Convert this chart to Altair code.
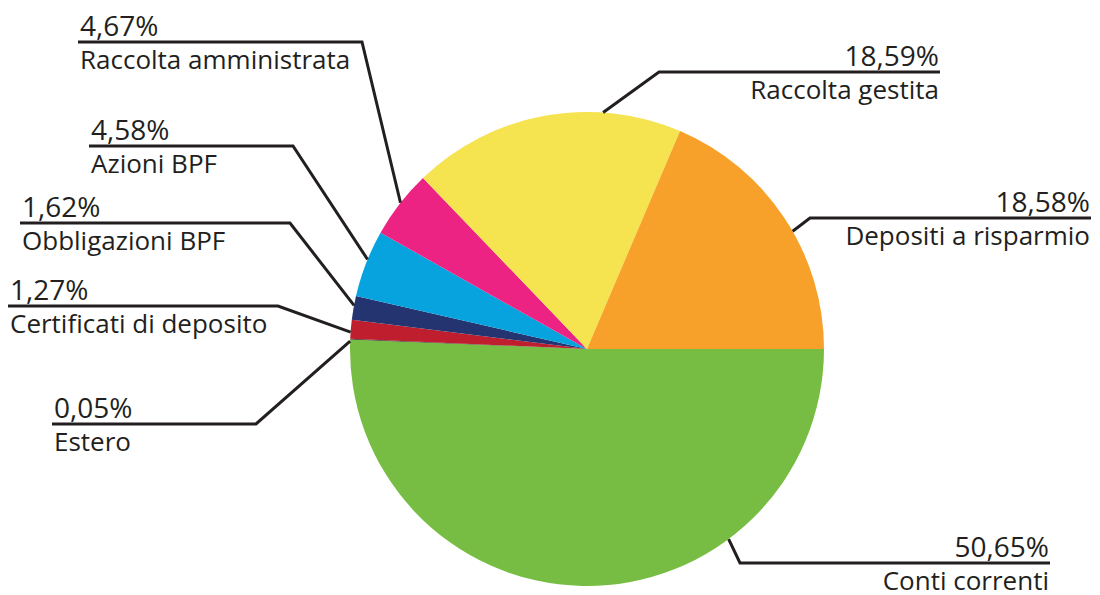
import math
import altair as alt
import pandas as pd

# ---- data ----
categories = ["Conti correnti", "Estero", "Certificati di deposito", "Obbligazioni BPF",
              "Azioni BPF", "Raccolta amministrata", "Raccolta gestita", "Depositi a risparmio"]
values = [50.65, 0.05, 1.27, 1.62, 4.58, 4.67, 18.59, 18.58]
pct_labels = ["50,65%", "0,05%", "1,27%", "1,62%", "4,58%", "4,67%", "18,59%", "18,58%"]
colors = ["#77BD43", "#231F20", "#BF1E2E", "#243470", "#07A3DE", "#EC2382", "#F5E34F", "#F7A12B"]

# ---- label layout (page pixel space) ----
CX, CY, R = 587, 349, 237
attach_deg = [143.3, 271.9, 274.1, 280.6, 292.2, 308.1, 3.9, 60.2]
elbow_x = [740, 256, 278, 290, 293, 362, 659, 810]
line_y = [563, 424, 306, 223, 146, 42, 72, 218]
end_x = [1050, 52, 8, 20, 89, 78, 940, 1091]
align = ["right", "left", "left", "left", "left", "left", "right", "right"]

df = pd.DataFrame({"cat": categories, "value": values, "idx": list(range(len(values)))})

rows = []
for i, c in enumerate(categories):
    a = math.radians(attach_deg[i])
    ax = CX + R * math.sin(a)
    ay = CY - R * math.cos(a)
    rows += [
        {"cat": c, "k": 0, "x": ax, "y": ay},
        {"cat": c, "k": 1, "x": elbow_x[i], "y": line_y[i]},
        {"cat": c, "k": 2, "x": end_x[i], "y": line_y[i]},
    ]
lines_df = pd.DataFrame(rows)

pct_rows, name_rows = [], []
for i, c in enumerate(categories):
    tx = end_x[i] + (2 if align[i] == "left" else -1)
    pct_rows.append({"t": pct_labels[i], "x": tx, "y": line_y[i] - 6, "al": align[i]})
    name_rows.append({"t": c, "x": tx, "y": line_y[i] + 27, "al": align[i]})
pct_df = pd.DataFrame(pct_rows)
name_df = pd.DataFrame(name_rows)

W, H = 1084, 587
xs = alt.Scale(domain=[8, 8 + W], range=[0, W])
ys = alt.Scale(domain=[8, 8 + H], range=[0, H])

pie = alt.Chart(df).mark_arc(radius=R).encode(
    theta=alt.Theta("value:Q", stack=True,
                    scale=alt.Scale(range=[math.pi / 2, math.pi / 2 + 2 * math.pi])),
    order=alt.Order("idx:Q"),
    color=alt.Color("cat:N", scale=alt.Scale(domain=categories, range=colors), legend=None),
    x=alt.value(CX - 8),
    y=alt.value(CY - 8),
)

leaders = alt.Chart(lines_df).mark_line(color="#231F20", strokeWidth=3).encode(
    x=alt.X("x:Q", scale=xs, axis=None),
    y=alt.Y("y:Q", scale=ys, axis=None),
    detail="cat:N",
    order="k:Q",
)

font = "Open Sans"


def texts(d, size):
    layers = []
    for al in ["left", "right"]:
        layers.append(alt.Chart(d[d.al == al]).mark_text(
            align=al, baseline="alphabetic", font=font, fontSize=size, color="#231F20"
        ).encode(x=alt.X("x:Q", scale=xs, axis=None),
                 y=alt.Y("y:Q", scale=ys, axis=None), text="t:N"))
    return layers


chart = alt.layer(pie, leaders, *texts(pct_df, 28), *texts(name_df, 26)).properties(
    width=W, height=H, padding=0, autosize=alt.AutoSizeParams(type="none")
).configure_view(stroke=None)

chart.save("out.html", embed_options={"renderer": "svg", "actions": False})
